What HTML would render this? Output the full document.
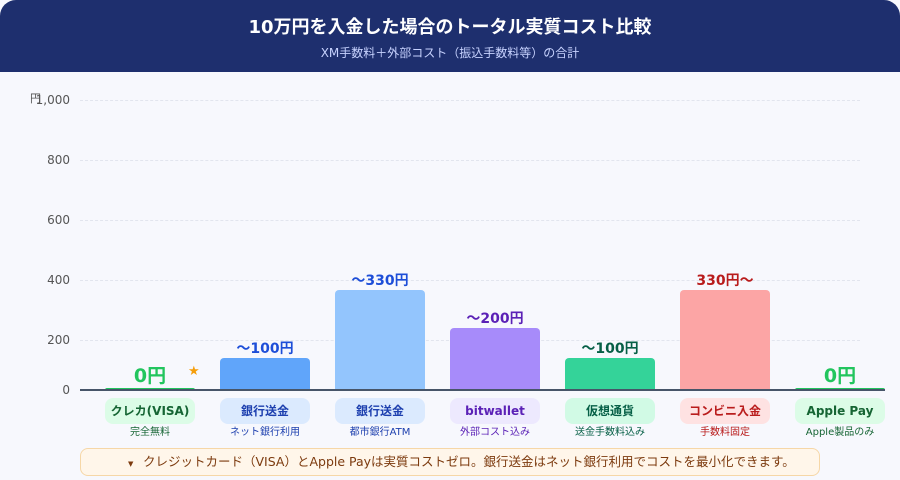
<!DOCTYPE html>
<html><head><meta charset="utf-8"><style>
*{margin:0;padding:0;box-sizing:border-box}
body{width:900px;height:480px;background:#f7f8fd;font-family:"DejaVu Sans","Noto Sans CJK JP",sans-serif;position:relative;overflow:hidden}
.hd{position:absolute;left:0;top:0;width:900px;height:72px;background:#1e2f6e;border-radius:16px 16px 0 0;color:#fff;text-align:center}
.hd h1{font-size:18px;font-weight:bold;margin-top:13px}
.hd p{font-size:12px;color:#c7d2fe;margin-top:5px}
.yl{position:absolute;right:830px;font-size:12px;color:#555;transform:translateY(-50%)}
.gl{position:absolute;left:80px;width:780px;border-top:1px dashed #e2e5ee}
.bar{position:absolute;width:90px;border-radius:4px 4px 0 0}
.vl{position:absolute;width:140px;text-align:center;font-weight:bold;font-size:14px}
.pill{position:absolute;top:398px;width:90px;height:26px;border-radius:8px;text-align:center;font-size:12px;font-weight:bold;line-height:26px}
.sub{position:absolute;top:423px;width:120px;text-align:center;font-size:10px}
</style></head><body>
<div class="hd"><h1>10万円を入金した場合のトータル実質コスト比較</h1><p>XM手数料＋外部コスト（振込手数料等）の合計</p></div>
<div style="position:absolute;left:30px;top:90px;font-size:11px;color:#555">円</div>
<div class="yl" style="top:100px">1,000</div><div class="gl" style="top:100px"></div>
<div class="yl" style="top:160px">800</div><div class="gl" style="top:160px"></div>
<div class="yl" style="top:220px">600</div><div class="gl" style="top:220px"></div>
<div class="yl" style="top:280px">400</div><div class="gl" style="top:280px"></div>
<div class="yl" style="top:340px">200</div><div class="gl" style="top:340px"></div>
<div class="yl" style="top:390px">0</div>
<div class="bar" style="left:105px;top:388px;height:2px;background:#22c55e"></div>
<div class="bar" style="left:220px;top:358px;height:32px;background:#60a5fa"></div>
<div class="bar" style="left:335px;top:290px;height:100px;background:#93c5fd"></div>
<div class="bar" style="left:450px;top:328px;height:62px;background:#a78bfa"></div>
<div class="bar" style="left:565px;top:358px;height:32px;background:#34d399"></div>
<div class="bar" style="left:680px;top:290px;height:100px;background:#fca5a5"></div>
<div class="bar" style="left:795px;top:388px;height:2px;background:#22c55e"></div>
<div style="position:absolute;left:80px;top:389px;width:805px;height:2px;background:#475569"></div>
<div class="vl" style="left:80px;top:361px;font-size:19px;color:#22c55e">0円</div>
<div style="position:absolute;left:188px;top:364px;color:#f59e0b;font-size:13px">★</div>
<div class="vl" style="left:195px;top:338px;color:#1d4ed8">〜100円</div>
<div class="vl" style="left:310px;top:270px;color:#1d4ed8">〜330円</div>
<div class="vl" style="left:425px;top:308px;color:#5b21b6">〜200円</div>
<div class="vl" style="left:540px;top:338px;color:#065f46">〜100円</div>
<div class="vl" style="left:655px;top:270px;color:#b91c1c">330円〜</div>
<div class="vl" style="left:770px;top:361px;font-size:19px;color:#22c55e">0円</div>
<div class="pill" style="left:105px;background:#dcfce7;color:#166534">クレカ(VISA)</div>
<div class="pill" style="left:220px;background:#dbeafe;color:#1e40af">銀行送金</div>
<div class="pill" style="left:335px;background:#dbeafe;color:#1e40af">銀行送金</div>
<div class="pill" style="left:450px;background:#ede9fe;color:#5b21b6">bitwallet</div>
<div class="pill" style="left:565px;background:#d1fae5;color:#065f46">仮想通貨</div>
<div class="pill" style="left:680px;background:#fee2e2;color:#b91c1c">コンビニ入金</div>
<div class="pill" style="left:795px;background:#dcfce7;color:#166534">Apple Pay</div>
<div class="sub" style="left:90px;color:#166534">完全無料</div>
<div class="sub" style="left:205px;color:#1e40af">ネット銀行利用</div>
<div class="sub" style="left:320px;color:#1e40af">都市銀行ATM</div>
<div class="sub" style="left:435px;color:#5b21b6">外部コスト込み</div>
<div class="sub" style="left:550px;color:#065f46">送金手数料込み</div>
<div class="sub" style="left:665px;color:#b91c1c">手数料固定</div>
<div class="sub" style="left:780px;color:#166534">Apple製品のみ</div>
<div style="position:absolute;left:80px;top:448px;width:740px;height:28px;background:#fff6ea;border:1px solid #f6d7a7;border-radius:8px;font-size:12.5px;color:#7c3a0e;line-height:26px;padding-left:46px"><span style="position:absolute;left:47px;font-size:7px;top:2px">▼</span><span style="margin-left:16px">クレジットカード（VISA）とApple Payは実質コストゼロ。銀行送金はネット銀行利用でコストを最小化できます。</span></div>
</body></html>
